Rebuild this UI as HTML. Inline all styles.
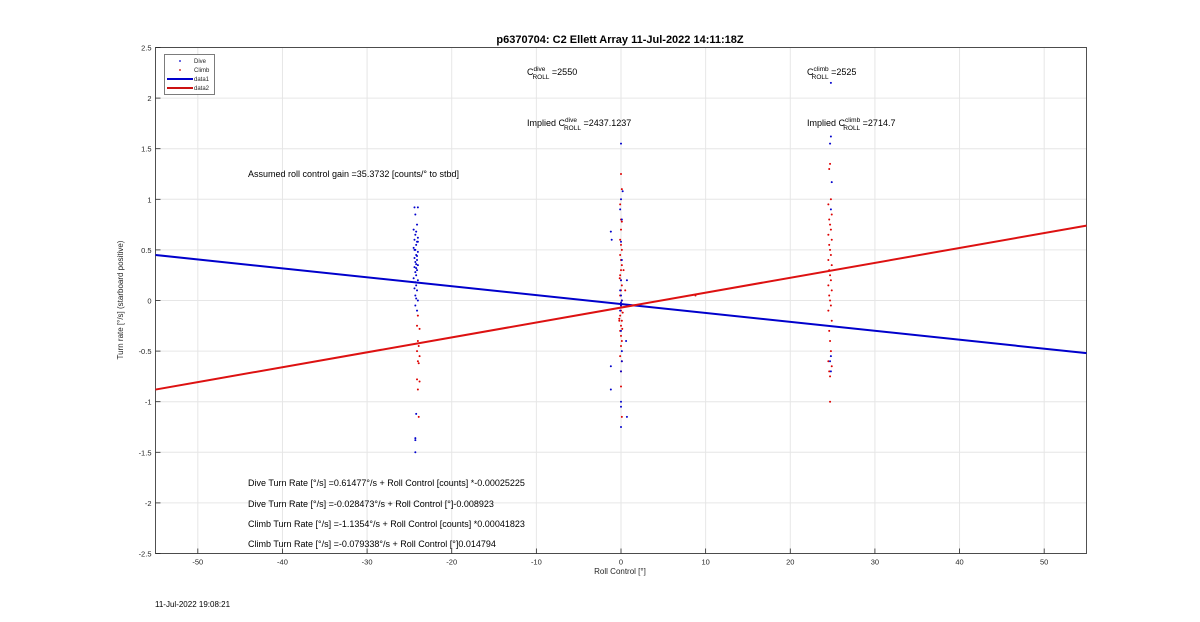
<!DOCTYPE html>
<html><head><meta charset="utf-8"><style>
body{margin:0;background:#fff;}
svg{display:block;font-family:"Liberation Sans",Arial,sans-serif;}
</style></head><body>
<svg id="chart" width="1200" height="622">
<text x="620" y="43" text-anchor="middle" font-size="11" font-weight="bold">p6370704: C2 Ellett Array 11-Jul-2022 14:11:18Z</text>
<g id="grid"></g>
<g id="ticks"></g>
<rect x="155.5" y="47.5" width="931" height="506" fill="none" stroke="#262626" stroke-width="0.8"/>
<g id="marks"></g>
<text x="620" y="574" text-anchor="middle" font-size="8" fill="#262626">Roll Control [°]</text>
<text transform="translate(123,300) rotate(-90)" text-anchor="middle" font-size="8" fill="#262626">Turn rate [°/s] (starboard positive)</text>
<g font-size="9" fill="#000">
<text x="527" y="75">C<tspan dy="-4" font-size="6.5">dive</tspan><tspan dx="-13" dy="8" font-size="6.5">ROLL</tspan><tspan dy="-4"> =2550</tspan></text>
<text x="807" y="75">C<tspan dy="-4" font-size="6.5">climb</tspan><tspan dx="-17" dy="8" font-size="6.5">ROLL</tspan><tspan dy="-4"> =2525</tspan></text>
<text x="527" y="126">Implied C<tspan dy="-4" font-size="6.5">dive</tspan><tspan dx="-13" dy="8" font-size="6.5">ROLL</tspan><tspan dy="-4"> =2437.1237</tspan></text>
<text x="807" y="126">Implied C<tspan dy="-4" font-size="6.5">climb</tspan><tspan dx="-17" dy="8" font-size="6.5">ROLL</tspan><tspan dy="-4"> =2714.7</tspan></text>
<text x="248" y="177">Assumed roll control gain =35.3732 [counts/° to stbd]</text>
<text x="248" y="486">Dive Turn Rate [°/s] =0.61477°/s + Roll Control [counts] *-0.00025225</text>
<text x="248" y="507">Dive Turn Rate [°/s] =-0.028473°/s + Roll Control [°]-0.008923</text>
<text x="248" y="527">Climb Turn Rate [°/s] =-1.1354°/s + Roll Control [counts] *0.00041823</text>
<text x="248" y="547">Climb Turn Rate [°/s] =-0.079338°/s + Roll Control [°]0.014794</text>
</g>
<g>
<rect x="164.5" y="54.5" width="50" height="40" fill="#fff" stroke="#262626" stroke-width="0.6"/>
<circle cx="180" cy="61" r="0.9" fill="#0000cc"/>
<text x="194" y="63" font-size="6" fill="#262626">Dive</text>
<circle cx="180" cy="70" r="0.9" fill="#cc0000"/>
<text x="194" y="72" font-size="6" fill="#262626">Climb</text>
<line x1="167" y1="79" x2="193" y2="79" stroke="#0000cc" stroke-width="2"/>
<text x="194" y="81" font-size="6" fill="#262626">data1</text>
<line x1="167" y1="88" x2="193" y2="88" stroke="#cc1111" stroke-width="2"/>
<text x="194" y="90" font-size="6" fill="#262626">data2</text>
</g>
<text x="155" y="607" font-size="8" fill="#000">11-Jul-2022 19:08:21</text>
</svg>
<script>
const xTicks=[-50,-40,-30,-20,-10,0,10,20,30,40,50];
const yTicks=[-2.5,-2,-1.5,-1,-0.5,0,0.5,1,1.5,2,2.5];
const xDomain=[-55,55];
const yDomain=[-2.5,2.5];
const diveFit=[-0.00882,-0.035];
const climbFit=[0.01473,-0.07];
const diveX=[-24.4,-24,-24.3,-24.1,-24.5,-24.2,-24.3,-24,-24.4,-24.1,-24.2,-24.5,-24.3,-24,-24.2,-24.4,-24.1,-24.3,-24.2,-24,-24.4,-24.1,-24.3,-24.2,-24.5,-24,-24.3,-24.2,-24.4,-24.1,-24.3,-24.2,-24,-24.3,-24.1,-24.2,-24.3,-24.3,-24.3,-24,-24.4,-24.1,-24.2,
0,0.2,0,-0.1,0.1,-1.2,-1.1,0,0.1,0,-0.1,0,0.1,0,0,-0.1,0,0.1,-1.2,0.1,0,0.7,-1.2,0.7,0.6,0,0,0,
24.8,24.7,24.9,24.8,24.8,24.7,24.8,24.8];
const diveY=[0.92,0.92,0.85,0.75,0.7,0.68,0.65,0.62,0.6,0.58,0.55,0.52,0.5,0.48,0.45,0.42,0.4,0.38,0.36,0.35,0.33,0.3,0.28,0.25,0.22,0.2,0.18,0.15,0.12,0.1,0.05,0.02,0,-0.05,-0.1,-1.12,-1.36,-1.38,-1.5,0.58,0.5,0.44,0.32,
1.55,1.08,1.0,0.9,0.8,0.68,0.6,0.58,0.4,0.2,0.1,0.05,0,-0.02,-0.05,-0.1,-0.3,-0.5,-0.65,-0.6,-0.7,0.2,-0.88,-1.15,-0.4,-1.0,-1.05,-1.25,
1.62,1.55,1.17,0.9,-0.55,-0.6,-0.7,2.15];
const climbX=[-24,-23.9,-24.1,-23.8,-24,-23.9,-24.1,-23.8,-24,-23.9,-24.1,-23.8,-24,
0,0.1,-0.1,0,0.1,0,-0.1,0,0.1,-0.1,
0,0.1,0,-0.1,0,0.1,0,-0.1,0.1,0,
0,-0.1,0.1,0,-0.1,0,0.1,0,-0.1,0.1,
0.3,-0.2,0.5,0,0,0.1,0.2,-0.2,0.15,-0.15,
24.7,24.6,24.8,24.5,24.9,24.6,24.7,24.8,24.5,24.9,24.6,24.7,24.8,24.5,24.9,24.6,24.7,24.8,24.5,24.9,24.6,24.7,24.8,24.5,24.9,24.6,24.7,24.8,24.5,24.9,24.6,24.7,24.7,
8.8];
const climbY=[-0.4,-0.45,-0.5,-0.55,-0.6,-0.62,-0.78,-0.8,-0.88,-1.15,-0.25,-0.28,-0.15,
1.25,1.1,0.95,0.8,0.78,0.7,0.6,0.55,0.5,0.45,
0.4,0.35,0.3,0.25,0.2,0.15,0.1,0.05,0,-0.05,
-0.1,-0.15,-0.2,-0.25,-0.3,-0.35,-0.4,-0.45,-0.55,-0.6,
0.3,-0.2,0.1,-0.7,-0.85,-1.15,-0.12,-0.18,-0.28,0.22,
1.35,1.3,1.0,0.95,0.85,0.8,0.75,0.7,0.65,0.6,0.55,0.5,0.45,0.4,0.35,0.3,0.25,0.2,0.15,0.1,0.05,0,-0.05,-0.1,-0.2,-0.3,-0.4,-0.5,-0.6,-0.65,-0.7,-0.75,-1.0,
0.05];
const L=155.5,R=1086.5,T=47.5,B=553.5;
const sx=v=>L+(v-xDomain[0])/(xDomain[1]-xDomain[0])*(R-L);
const sy=v=>B-(v-yDomain[0])/(yDomain[1]-yDomain[0])*(B-T);
const NS='http://www.w3.org/2000/svg';
function mk(tag,attrs,parent){const e=document.createElementNS(NS,tag);for(const k in attrs)e.setAttribute(k,attrs[k]);parent.appendChild(e);return e;}
const grid=document.getElementById('grid'),ticks=document.getElementById('ticks'),marks=document.getElementById('marks');
xTicks.forEach(v=>{const x=sx(v);
 const g=mk('line',{x1:x,x2:x,y1:T,y2:B,stroke:'#e6e6e6','stroke-width':1},grid);
 
 
 const t=mk('line',{x1:x,x2:x,y1:B,y2:B-5,stroke:'#262626','stroke-width':0.8},ticks);
 
 
 const l=mk('text',{x:x,y:B+11,'text-anchor':'middle','font-size':7.5,fill:'#262626'},ticks);
 l.textContent=v;
 
 
});
yTicks.forEach(v=>{const y=sy(v);
 const g=mk('line',{x1:L,x2:R,y1:y,y2:y,stroke:'#e6e6e6','stroke-width':1},grid);
 
 
 const t=mk('line',{x1:L,x2:L+5,y1:y,y2:y,stroke:'#262626','stroke-width':0.8},ticks);
 
 
 const l=mk('text',{x:L-4,y:y+3,'text-anchor':'end','font-size':7.5,fill:'#262626'},ticks);
 l.textContent=v;
 
 
});
climbX.forEach((x,i)=>{const c=mk('circle',{cx:sx(x),cy:sy(climbY[i]),r:1,fill:'#dd0000'},marks);
 
 });
diveX.forEach((x,i)=>{const c=mk('circle',{cx:sx(x),cy:sy(diveY[i]),r:1,fill:'#0000cc'},marks);
 
 });
const dl=mk('line',{x1:sx(xDomain[0]),y1:sy(diveFit[0]*xDomain[0]+diveFit[1]),x2:sx(xDomain[1]),y2:sy(diveFit[0]*xDomain[1]+diveFit[1]),stroke:'#0000cc','stroke-width':2},marks);


const cl=mk('line',{x1:sx(xDomain[0]),y1:sy(climbFit[0]*xDomain[0]+climbFit[1]),x2:sx(xDomain[1]),y2:sy(climbFit[0]*xDomain[1]+climbFit[1]),stroke:'#dd1111','stroke-width':2},marks);


</script>
</body></html>
